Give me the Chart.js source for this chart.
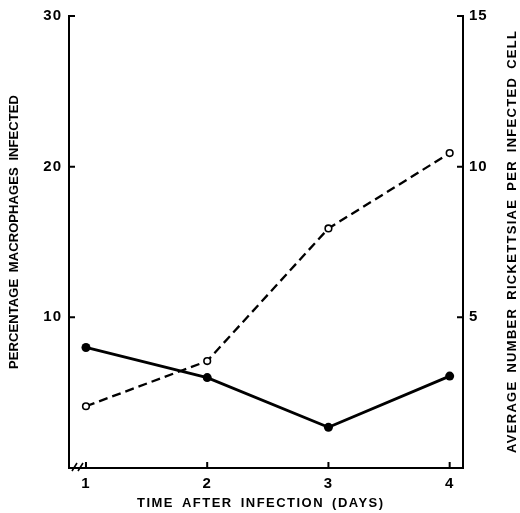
<!DOCTYPE html>
<html><head><meta charset="utf-8">
<script src="https://cdn.jsdelivr.net/npm/chart.js@4"></script>
<style>html,body{margin:0;padding:0;background:#fff}#wrap{width:520px;height:513px}</style>
</head><body><div id="wrap"><canvas id="c" width="520" height="513"></canvas></div>
<script>
const days = [1, 2, 3, 4];
const percentInfected = [8.0, 6.0, 2.7, 6.1];
const avgRickettsiae = [2.05, 3.55, 7.95, 10.45];
const xTicks = [1, 2, 3, 4];
const leftTicks = [10, 20, 30];
const rightTicks = [5, 10, 15];
const xTitle = 'TIME AFTER INFECTION (DAYS)';
const leftTitle = 'PERCENTAGE MACROPHAGES INFECTED';
const rightTitle = 'AVERAGE NUMBER RICKETTSIAE PER INFECTED CELL';

const FONT = '"Liberation Sans", Arial, sans-serif';
const tickFont = {family: FONT, size: 15, weight: 'bold'};

function drawSpaced(ctx, text, cx, cy, rot, target, size) {
  ctx.save();
  ctx.font = 'bold ' + size + 'px ' + FONT;
  const WS = 3;
  ctx.wordSpacing = WS + 'px';
  ctx.letterSpacing = '0px';
  const spaces = (text.match(/ /g) || []).length;
  ctx.wordSpacing = '0px';
  const w = ctx.measureText(text).width + spaces * WS;
  ctx.wordSpacing = WS + 'px';
  const ls = Math.max(0, (target - w) / (text.length - 1));
  ctx.letterSpacing = ls + 'px';
  ctx.translate(cx, cy);
  ctx.rotate(rot);
  ctx.fillStyle = '#000';
  ctx.textAlign = 'left';
  ctx.textBaseline = 'middle';
  ctx.fillText(text, -target / 2, 0);
  ctx.restore();
}

const decor = {
  id: 'decor',
  beforeDraw(chart) { chart.ctx.letterSpacing = '1px'; },
  afterDraw(chart) {
    const ctx = chart.ctx;
    const a = chart.chartArea;
    const sx = chart.scales.x, sl = chart.scales.yL, sr = chart.scales.yR;
    const TL = 6;
    ctx.save();
    ctx.strokeStyle = '#000';
    ctx.lineWidth = 2;
    ctx.beginPath();
    xTicks.forEach(v => { const p = sx.getPixelForValue(v); ctx.moveTo(p, a.bottom); ctx.lineTo(p, a.bottom - TL); });
    leftTicks.forEach(v => { const p = sl.getPixelForValue(v); ctx.moveTo(a.left, p); ctx.lineTo(a.left + TL, p); });
    rightTicks.forEach(v => { const p = sr.getPixelForValue(v); ctx.moveTo(a.right, p); ctx.lineTo(a.right - TL, p); });
    ctx.stroke();
    // axis break marks
    ctx.lineWidth = 1.6;
    ctx.beginPath();
    ctx.moveTo(a.left + 3, a.bottom + 3); ctx.lineTo(a.left + 8, a.bottom - 5);
    ctx.moveTo(a.left + 9, a.bottom + 3); ctx.lineTo(a.left + 14, a.bottom - 5);
    ctx.stroke();
    ctx.restore();
    drawSpaced(ctx, xTitle, 260, 503, 0, 246, 13);
    drawSpaced(ctx, leftTitle, 14, 232, -Math.PI / 2, 274, 13);
    drawSpaced(ctx, rightTitle, 512, 242, -Math.PI / 2, 422, 13);
  }
};

new Chart(document.getElementById('c'), {
  type: 'line',
  data: {
    datasets: [
      {
        data: days.map((d, i) => ({x: d, y: percentInfected[i]})),
        yAxisID: 'yL',
        borderColor: '#000', borderWidth: 2.8,
        pointRadius: 4.5, pointBackgroundColor: '#000', pointBorderColor: '#000', pointBorderWidth: 0,
        tension: 0, fill: false
      },
      {
        data: days.map((d, i) => ({x: d, y: avgRickettsiae[i]})),
        yAxisID: 'yR',
        borderColor: '#000', borderWidth: 2.3, borderDash: [9, 5],
        pointRadius: 3.3, pointBackgroundColor: '#fff', pointBorderColor: '#000', pointBorderWidth: 1.6,
        tension: 0, fill: false
      }
    ]
  },
  options: {
    responsive: false,
    animation: false,
    devicePixelRatio: 1,
    layout: {padding: {top: 14, left: 0, right: 0, bottom: 0}},
    plugins: {legend: {display: false}, tooltip: {enabled: false}},
    scales: {
      x: {
        type: 'linear', min: 0.86, max: 4.11,
        afterBuildTicks: s => { s.ticks = xTicks.map(v => ({value: v})); },
        afterFit: s => { s.height = 45; },
        ticks: {color: '#000', font: tickFont, padding: 7, maxRotation: 0, autoSkip: false},
        grid: {display: true, drawOnChartArea: false, drawTicks: false},
        border: {display: true, color: '#000', width: 2}
      },
      yL: {
        type: 'linear', position: 'left', min: 0, max: 30,
        afterBuildTicks: s => { s.ticks = leftTicks.map(v => ({value: v})); },
        afterFit: s => { s.width = 69; },
        ticks: {color: '#000', font: tickFont, padding: 7, autoSkip: false},
        grid: {display: true, drawOnChartArea: false, drawTicks: false},
        border: {display: true, color: '#000', width: 2}
      },
      yR: {
        type: 'linear', position: 'right', min: 0, max: 15,
        afterBuildTicks: s => { s.ticks = rightTicks.map(v => ({value: v})); },
        afterFit: s => { s.width = 57; },
        ticks: {color: '#000', font: tickFont, padding: 6, autoSkip: false},
        grid: {display: true, drawOnChartArea: false, drawTicks: false},
        border: {display: true, color: '#000', width: 2}
      }
    }
  },
  plugins: [decor]
});
</script>
</body></html>
